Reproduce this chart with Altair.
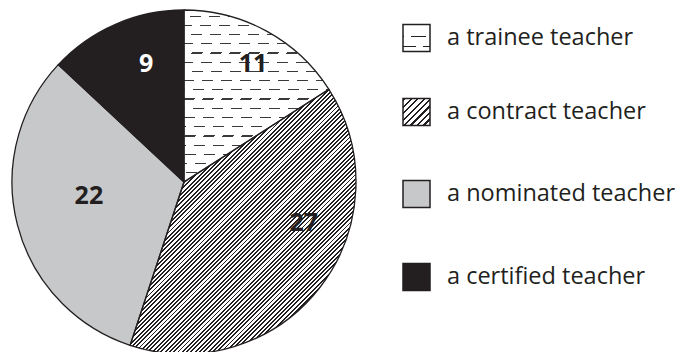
import math
import altair as alt
import pandas as pd

# Teachers by promotion grade
categories = ["a trainee teacher", "a contract teacher", "a nominated teacher", "a certified teacher"]
counts = [11, 27, 22, 9]

INK = "#231f20"
GRAY = "#c7c8ca"
CLEAR = "rgba(255,255,255,0)"
R = 172            # pie radius (px)
CX, CY = 184, 182  # pie centre (px)
BOX = 27           # legend swatch side (px)

df = pd.DataFrame({"category": categories, "count": counts})
total = sum(counts)


def stripes(period, ink_w, ink, paper, x2, y2, offset=0.0):
    """Hard-edged linear gradient (bounding-box units) that draws stripes."""
    stops = [(0.0, paper)]
    t = offset
    while t < 1:
        a, b = max(t, 0.0), min(t + ink_w, 1.0)
        if b > a:
            stops += [(a, paper), (a, ink), (b, ink), (b, paper)]
        t += period
    stops.append((1.0, paper))
    return {"gradient": "linear", "x1": 0, "y1": 0, "x2": x2, "y2": y2,
            "stops": [{"offset": round(o, 5), "color": c} for o, c in stops]}


def slice_box(a0, a1):
    """Width/height of a pie slice's bounding box."""
    pts = [(0.0, 0.0), (math.sin(a0), -math.cos(a0)), (math.sin(a1), -math.cos(a1))]
    for k in range(4):
        a = k * math.pi / 2
        if a0 < a < a1:
            pts.append((math.sin(a), -math.cos(a)))
    xs = [p[0] * R for p in pts]
    ys = [p[1] * R for p in pts]
    return max(xs) - min(xs), max(ys) - min(ys)


def diagonal(w, h, period_px, ink_px, ink, paper, offset_px=0.0):
    """Stripes running bottom-left to top-right at 45 degrees in pixel space."""
    k = w / (w * w + h * h)
    return stripes(period_px * k, ink_px * k, ink, paper, 1, h / w, offset_px * k)


# slice angles
angles = []
acc = 0
for c in counts:
    a0 = 2 * math.pi * acc / total
    acc += c
    angles.append((a0, 2 * math.pi * acc / total))

tw, th = slice_box(*angles[0])
cw, chh = slice_box(*angles[1])

trainee_lines = stripes(9.2 / th, 1.2 / th, "#3a3a3a", "white", 0, 1, 5.7 / th)
trainee_mask = diagonal(tw, th, 19, 8.5, "white", CLEAR, 4)
contract_hatch = diagonal(cw, chh, 4.3, 1.9, INK, "white")

sw_lines = stripes(10 / BOX, 1.4 / BOX, INK, "white", 0, 1, 11 / BOX)
sw_mask = diagonal(BOX, BOX, 22, 7, "white", CLEAR, 13)
sw_hatch = diagonal(BOX, BOX, 6.5, 2.2, INK, "white", 1)


def is_cat(i):
    return f"datum.category === '{categories[i]}'"


slice_fill = {
    "condition": [
        {"test": is_cat(0), "value": trainee_lines},
        {"test": is_cat(1), "value": contract_hatch},
        {"test": is_cat(2), "value": GRAY},
    ],
    "value": INK,
}
swatch_fill = {
    "condition": [
        {"test": is_cat(0), "value": sw_lines},
        {"test": is_cat(1), "value": sw_hatch},
        {"test": is_cat(2), "value": GRAY},
    ],
    "value": INK,
}

base = (
    alt.Chart(df)
    .transform_window(idx="row_number()", cum="sum(count)", frame=[None, 0])
    .transform_calculate(
        a0=f"2 * PI * (datum.cum - datum.count) / {total}",
        a1=f"2 * PI * datum.cum / {total}",
        amid=f"2 * PI * (datum.cum - datum.count / 2) / {total}",
    )
)

pie_pos = dict(
    x=alt.value(CX),
    y=alt.value(CY),
    theta=alt.Theta("a0:Q", scale=None),
    theta2=alt.Theta2("a1:Q"),
)

slices = base.mark_arc(radius=R, strokeWidth=0).encode(fill=slice_fill, **pie_pos)
dash_mask = (
    base.transform_filter(is_cat(0))
    .mark_arc(radius=R, strokeWidth=0, fill=trainee_mask)
    .encode(**pie_pos)
)
outline = base.mark_arc(radius=R, fillOpacity=0, stroke=INK, strokeWidth=1.3).encode(**pie_pos)

# value labels, nudged off the slice mid-angle
nudges = {0: (9, -8), 1: (21, -36), 2: (26, -17), 3: (12, -3)}
labels = []
for i, (dx, dy) in nudges.items():
    labels.append(
        base.transform_filter(is_cat(i))
        .mark_text(radius=125, dx=dx, dy=dy, fontSize=25, fontWeight="bold",
                   font="Open Sans", color="white" if i == 3 else INK,
                   align="center", baseline="middle")
        .encode(x=alt.value(CX), y=alt.value(CY),
                theta=alt.Theta("amid:Q", scale=None), text="count:Q")
    )

legend_y = alt.Y("idx:Q", scale=alt.Scale(domain=[1, 2, 3, 4], range=[38, 112, 194, 277]), axis=None)
sw_x = alt.value(403 + BOX / 2)

swatches = base.mark_square(size=BOX * BOX, strokeWidth=0, opacity=1).encode(
    x=sw_x, y=legend_y, fill=swatch_fill
)
swatch_mask = (
    base.transform_filter(is_cat(0))
    .mark_square(size=BOX * BOX, strokeWidth=0, opacity=1, fill=sw_mask)
    .encode(x=sw_x, y=legend_y)
)
swatch_edge = base.mark_square(
    size=BOX * BOX, opacity=1, fillOpacity=0, stroke=INK, strokeWidth=1.5
).encode(x=sw_x, y=legend_y)
legend_text = base.mark_text(
    align="left", baseline="middle", fontSize=23.5, font="Open Sans", color=INK
).encode(x=alt.value(447), y=legend_y, text="category:N")

chart = (
    alt.layer(slices, dash_mask, outline, *labels, swatches, swatch_mask, swatch_edge, legend_text)
    .properties(width=684, height=352, autosize="none", padding=0, background="white")
    .configure_view(strokeWidth=0)
)

chart.save("out.html", embed_options={"renderer": "svg", "actions": False})
